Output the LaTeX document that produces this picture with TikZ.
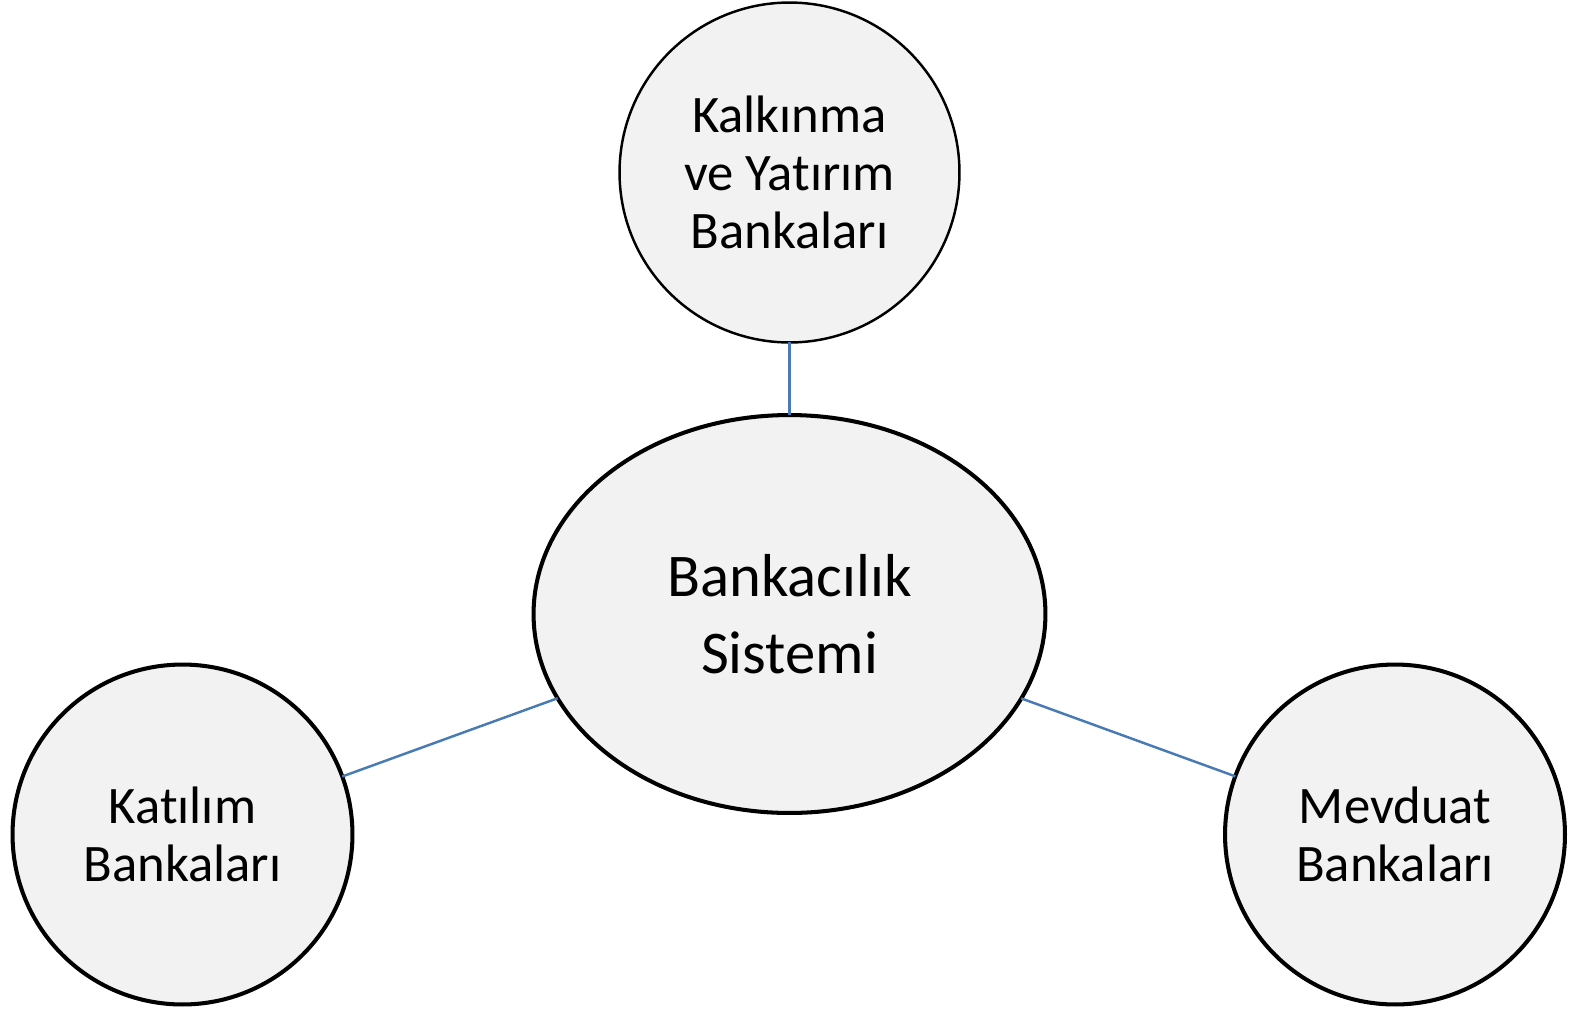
\documentclass[tikz,border=0pt]{standalone}
\usepackage{fontspec}
\setmainfont[RawFeature=-liga]{Carlito}
\usetikzlibrary{shapes.geometric}
\definecolor{kutu}{RGB}{242,242,242}
\definecolor{baglanti}{RGB}{72,122,180}
\newcommand{\tI}{t\kern0ptı}

\begin{document}
\begin{tikzpicture}[
  banka/.style={circle, draw, fill=kutu, line width=2.3pt, minimum size=6.8cm,
    inner sep=0pt, outer sep=0pt, align=center, font=\fontsize{30}{33}\selectfont},
  sistem/.style={ellipse, draw, fill=kutu, line width=2.3pt, minimum width=10.24cm,
    minimum height=7.96cm, inner sep=0pt, outer sep=0pt, align=center,
    font=\fontsize{34.5}{44}\selectfont},
  bag/.style={baglanti, line width=1.4pt}]
  \pgfmathsetmacro{\u}{0.02}
  \useasboundingbox (0,0) rectangle (1573*\u,-1011*\u);

  \node[sistem] (sis) at (789.5*\u,-614*\u) {Bankacılık\\Sistemi};
  \node[banka, line width=1.4pt] (kal) at (789.5*\u,-172.5*\u) {Kalkınma\\ve Ya\tI rım\\Bankaları};
  \node[banka] (kat) at (182.5*\u,-834.5*\u) {Ka\tI lım\\Bankaları};
  \node[banka] (mev) at (1395*\u,-834.5*\u) {Mevduat\\Bankaları};

  \draw[bag] (kal) -- (sis);
  \draw[bag] (kat) -- (sis);
  \draw[bag] (mev) -- (sis);

\end{tikzpicture}
\end{document}
